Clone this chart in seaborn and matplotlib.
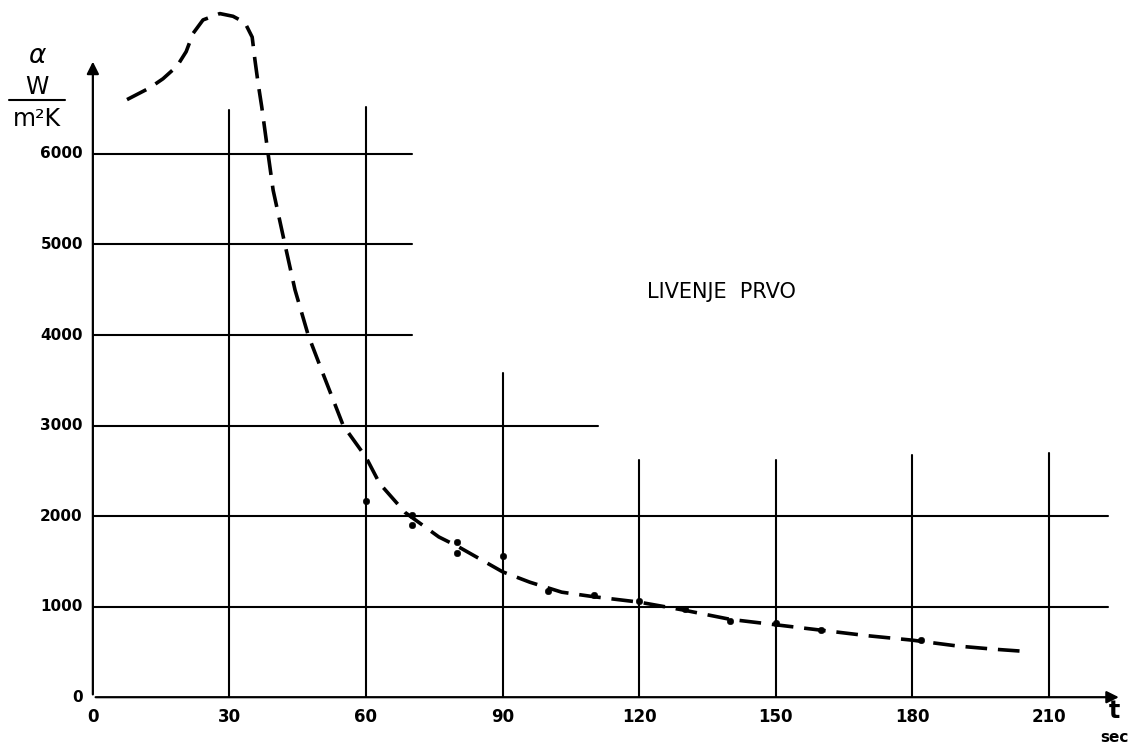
import matplotlib.pyplot as plt
import seaborn as sns
import pandas as pd

# dashed curve
t_curve = [7.5, 12.5, 15.4, 18.5, 20.5, 22, 24.2, 27.9, 30.8, 33.4, 35, 35.6, 36.3,
           37.1, 38.5, 39.6, 42.2, 44.4, 47.3, 50.5, 55, 60, 63, 68.6, 76, 80, 90, 96,
           103, 110, 120, 130, 140, 150, 160, 170, 180, 190, 198, 205]
a_curve = [6600, 6730, 6830, 6970, 7130, 7330, 7480, 7550, 7520, 7450, 7290, 7040,
           6780, 6520, 6000, 5600, 5000, 4500, 4000, 3580, 3000, 2650, 2360, 2040, 1770,
           1670, 1385, 1270, 1160, 1110, 1050, 960, 860, 800, 740, 680, 630, 565, 530, 505]

# measured points
t_pts = [60, 70, 70, 80, 80, 90, 100, 110, 120, 130, 140, 150, 160, 182]
a_pts = [2166, 2010, 1900, 1710, 1590, 1560, 1170, 1130, 1060, 970, 840, 818, 740, 630]

x_ticks = [0, 30, 60, 90, 120, 150, 180, 210]
y_ticks = [0, 1000, 2000, 3000, 4000, 5000, 6000]

# hand-drawn grid: how far each line runs
h_grid = [1000, 2000, 3000, 4000, 5000, 6000]
h_grid_end = [223, 223, 111, 70, 70, 70]
v_grid = [30, 60, 90, 120, 150, 180, 210]
v_grid_top = [6480, 6520, 3580, 2620, 2620, 2670, 2700]

title = "LIVENJE  PRVO"

sns.set_style("white")
plt.rcParams["text.color"] = "black"
fig = plt.figure(figsize=(11.33, 7.47), dpi=100)
ax = fig.add_axes([0, 0, 1, 1])
ax.set_xlim(-20.4, 228.5)
ax.set_ylim(-550, 7700)
ax.axis("off")

for y, xe in zip(h_grid, h_grid_end):
    ax.plot([0, xe], [y, y], color="black", lw=1.5)
for x, yt in zip(v_grid, v_grid_top):
    ax.plot([x, x], [0, yt], color="black", lw=1.5)

# axes with arrows
ax.annotate("", xy=(0, 7050), xytext=(0, 0),
            arrowprops=dict(arrowstyle="-|>", color="black", lw=1.6, mutation_scale=18))
ax.annotate("", xy=(226, 0), xytext=(0, 0),
            arrowprops=dict(arrowstyle="-|>", color="black", lw=1.6, mutation_scale=18))

df = pd.DataFrame({"t": t_curve, "a": a_curve})
sns.lineplot(data=df, x="t", y="a", ax=ax, color="black", lw=2.6, sort=False)
ax.lines[-1].set_dashes((6, 3))
sns.scatterplot(x=t_pts, y=a_pts, ax=ax, color="black", s=22, edgecolor="black", zorder=5)

for v in y_ticks:
    ax.text(-2.2, v, str(v), ha="right", va="center", fontsize=11, fontweight="bold")
for v in x_ticks:
    ax.text(v, -220, str(v), ha="center", va="center", fontsize=12, fontweight="bold")

ax.text(-12.2, 7080, r"$\alpha$", ha="center", va="center", fontsize=19)
ax.text(-12.2, 6740, "W", ha="center", va="center", fontsize=17)
ax.plot([-18.5, -6.2], [6600, 6600], color="black", lw=1.5)
ax.text(-12.2, 6390, "m²K", ha="center", va="center", fontsize=17)
ax.text(224.5, -150, "t", ha="center", va="center", fontsize=17, fontweight="bold")
ax.text(224.5, -440, "sec", ha="center", va="center", fontsize=11, fontweight="bold")
ax.text(138, 4480, title, ha="center", va="center", fontsize=15)

fig.savefig("out.png", dpi=100)
